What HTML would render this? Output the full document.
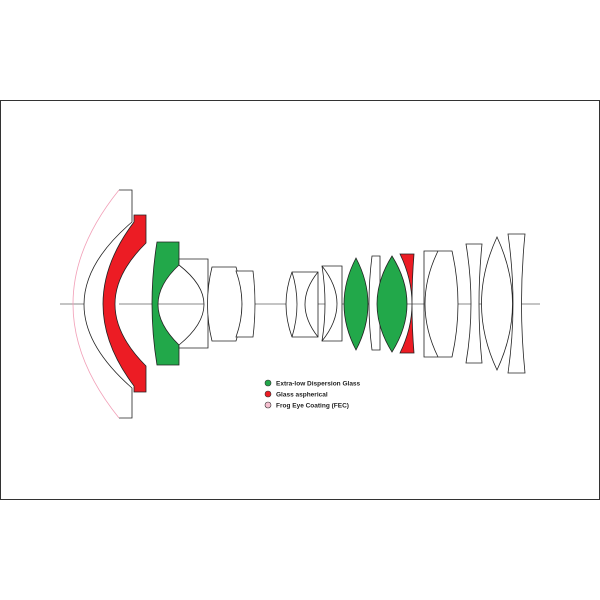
<!DOCTYPE html>
<html><head><style>body{margin:0;background:#fff}svg{display:block}</style></head><body>
<svg width="600" height="600" viewBox="0 0 600 600" xmlns="http://www.w3.org/2000/svg">
<rect x="0.5" y="100.5" width="599" height="399" fill="#fff" stroke="#333" stroke-width="1"/>
<line x1="60" y1="304" x2="540" y2="304" stroke="#888" stroke-width="1"/>
<g stroke="#222" stroke-width="0.8" fill="#fff">
<path d="M119,190 L132,190 L132,222 Q36,304 132,388 L132,418 L119,418" fill="#fff" stroke="#222"/>
<path d="M119,190 Q27,304 119,418" fill="none" stroke="#f2a0b8"/>
<path d="M134,215 L146,215 L146,243 Q84,304 146,366 L146,392 L134,392 L134,386 Q72,304 134,222 Z" fill="#ec1c24"/>
<path d="M157,242 L179,242 L179,265 Q137,304 179,345 L179,365 L157,365 Q147,304 157,242 Z" fill="#22a84a"/>
<path d="M179,259 L208,259 L208,348 L179,348 L179,345 Q229,304 179,265 Z"/>
<path d="M212,267 L236,267 Q248,304 236,341 L212,341 Q203,304 212,267 Z"/>
<path d="M236,271 L253,271 Q257,304 253,337 L236,337 Q248,304 236,271 Z"/>
<path d="M292,272 L318,272 L318,337 L292,337 Q280,304 292,272 Z"/>
<path d="M292,272 Q302,304 292,337" fill="none"/>
<path d="M318,272 Q292,304 318,337" fill="none"/>
<path d="M322,266 L342,266 L342,341 L322,341 Q328,304 322,266 Z"/>
<path d="M322,266 Q352,304 322,341" fill="none"/>
<path d="M356,258 Q380,304 356,350 Q332,304 356,258 Z" fill="#22a84a"/>
<path d="M372,256 L380,256 L380,350 L372,350 Q366,304 372,256 Z"/>
<path d="M392,256 Q422,304 392,352 Q362,304 392,256 Z" fill="#22a84a"/>
<path d="M400,254 L414,254 Q410,304 414,353 L400,353 Q424,304 400,254 Z" fill="#ec1c24"/>
<path d="M424,251 L452,251 Q464,304 452,357 L424,357 Z"/>
<path d="M438,251 Q412,304 438,357" fill="none"/>
<path d="M466,244 L482,244 Q476,304 482,363 L466,363 Q476,304 466,244 Z"/>
<path d="M497,237 Q528,304 497,370 Q466,304 497,237 Z"/>
<path d="M508,234 L525,234 Q518,304 525,373 L508,373 Q518,304 508,234 Z"/>
</g>
<g font-family="Liberation Sans, sans-serif" font-size="6.5" font-weight="bold" fill="#222">
<circle cx="268" cy="383" r="3" fill="#22a84a" stroke="#333" stroke-width="0.6"/>
<circle cx="268" cy="394" r="3" fill="#ec1c24" stroke="#333" stroke-width="0.6"/>
<circle cx="268" cy="405" r="3" fill="#f6c0d0" stroke="#333" stroke-width="0.6"/>
<text x="276" y="385.5">Extra-low Dispersion Glass</text>
<text x="276" y="396.5">Glass aspherical</text>
<text x="276" y="407.5">Frog Eye Coating (FEC)</text>
</g>
</svg>
</body></html>
